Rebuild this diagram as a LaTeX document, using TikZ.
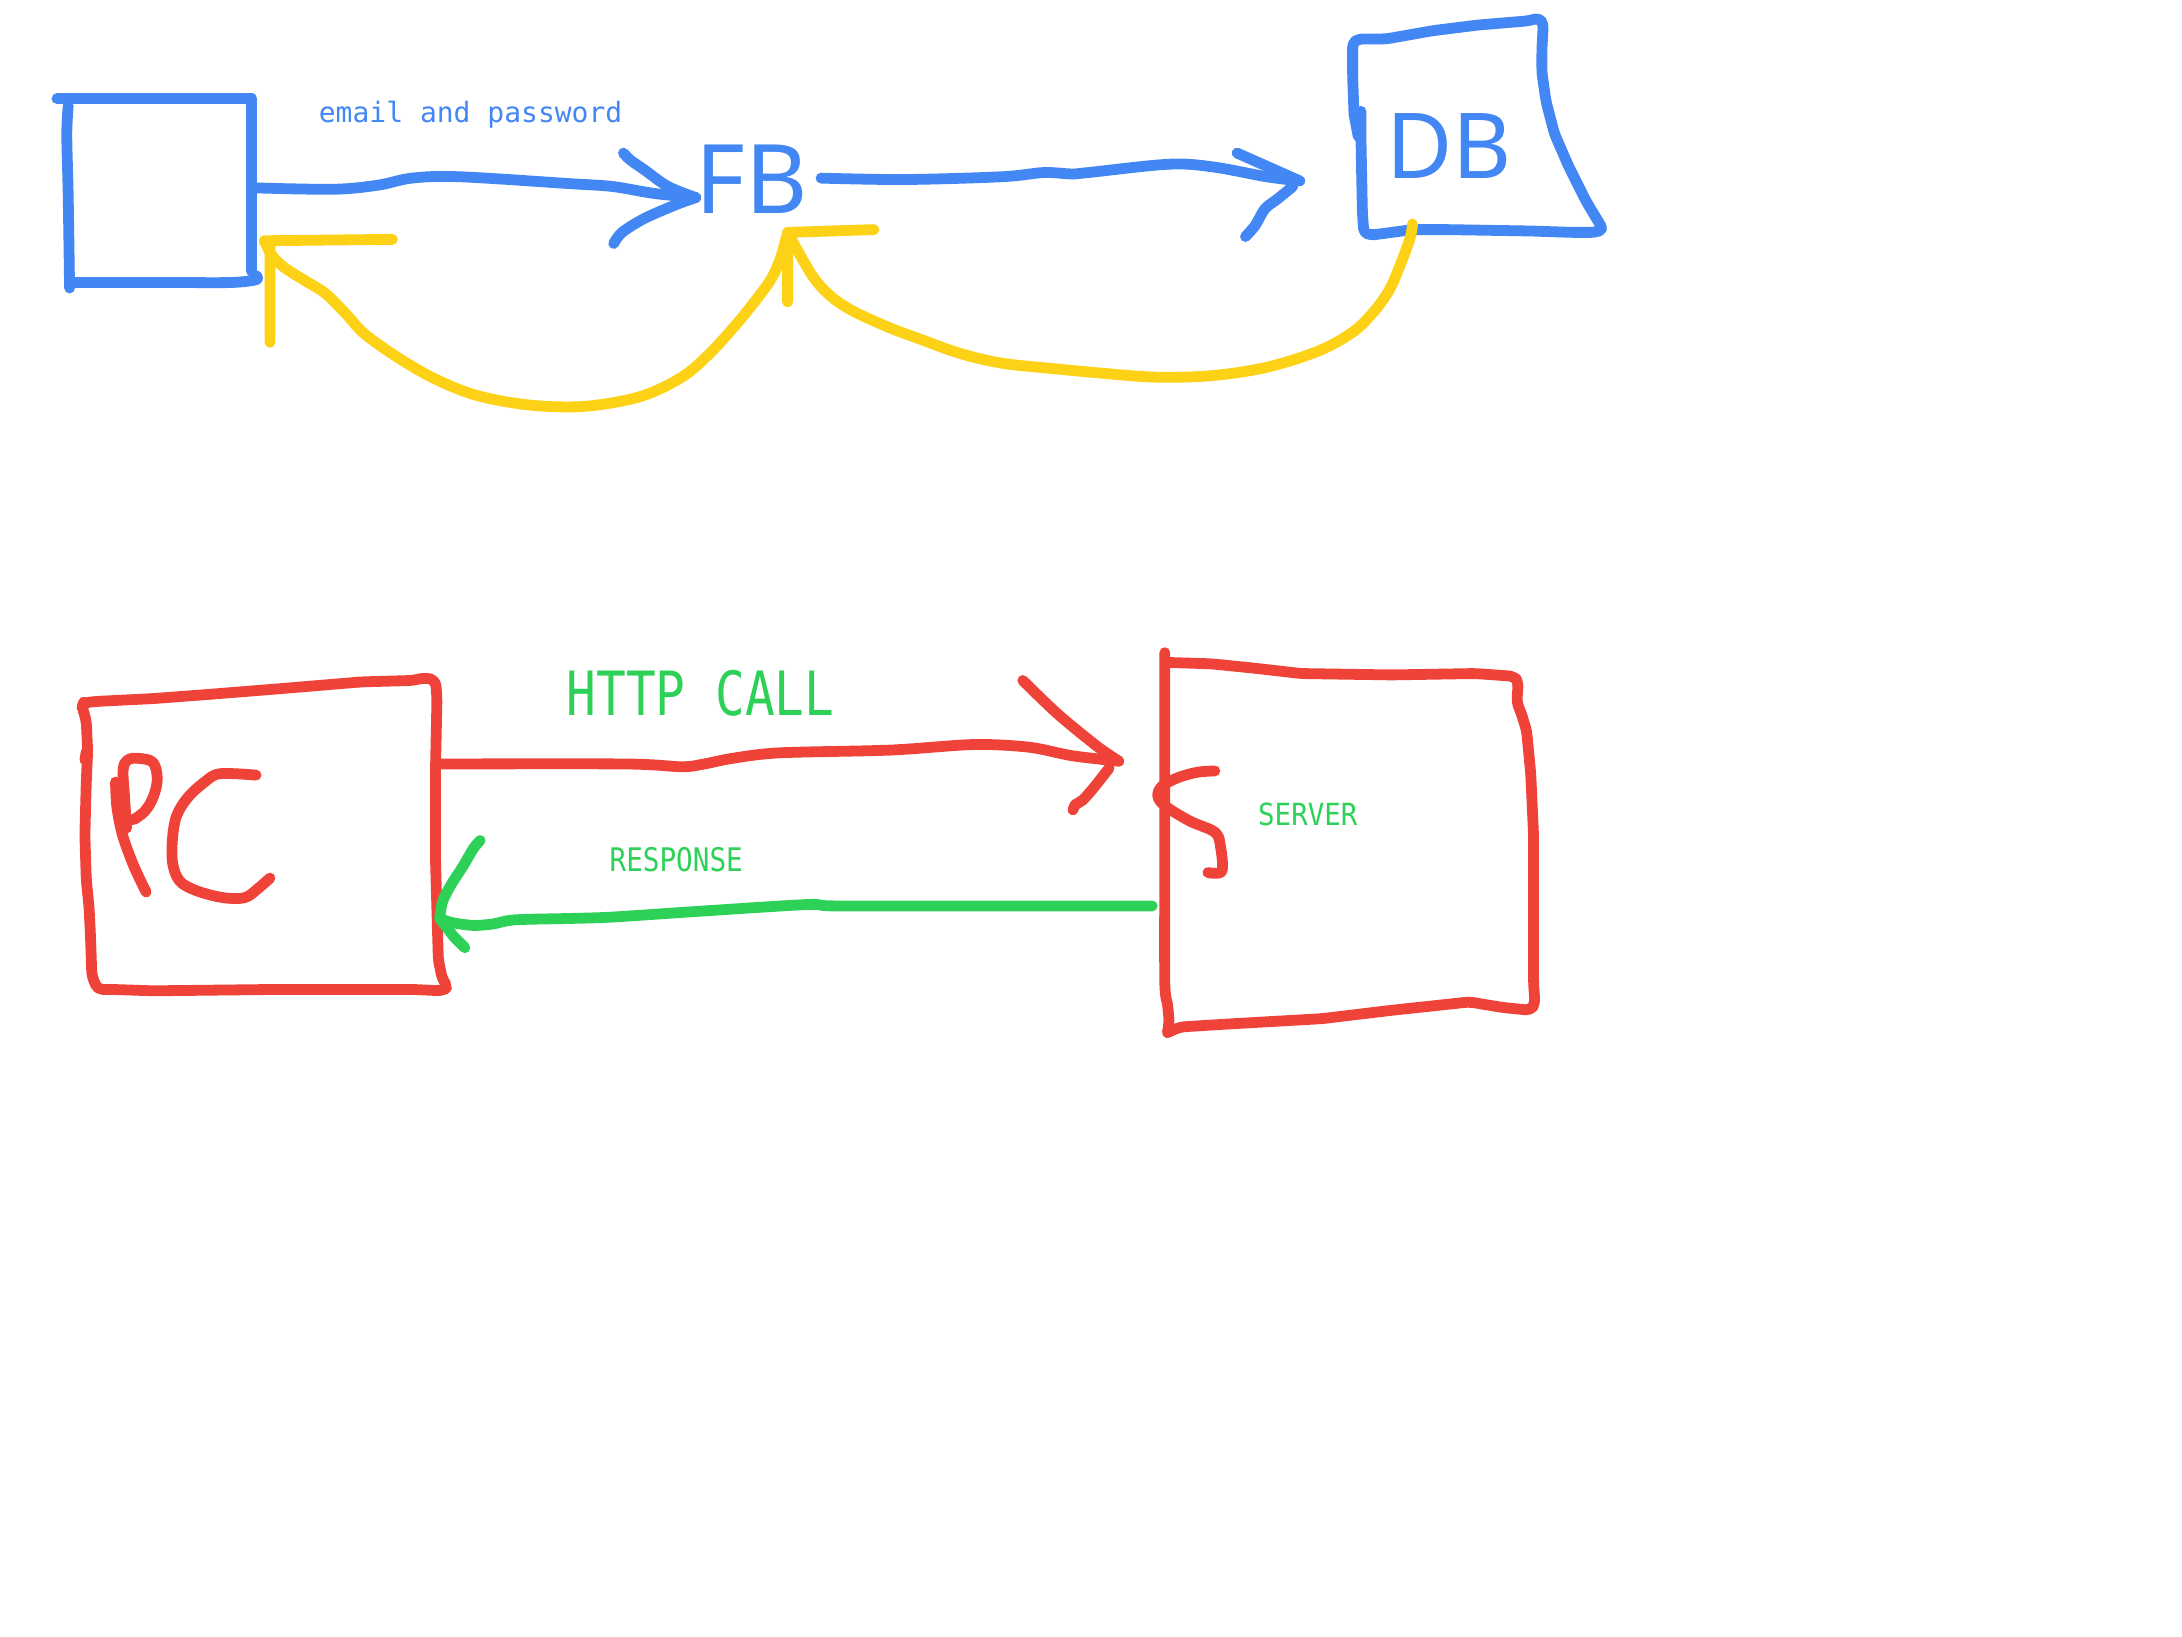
\documentclass[tikz,border=0pt]{standalone}
\usepackage{fontspec}
\usepackage{graphicx}
\newfontfamily\monof{DejaVu Sans Mono}
\newfontfamily\sansf{Noto Sans}
\definecolor{jblue}{HTML}{4387F4}
\definecolor{jyellow}{HTML}{FCD116}
\definecolor{jred}{HTML}{EF4339}
\definecolor{jgreen}{HTML}{2ED158}
\begin{document}
\begin{tikzpicture}[x=1.3916pt,y=-1.3916pt,
  pen/.style={line width=10.8pt,line cap=round,line join=round},
  bluepen/.style={pen,draw=jblue},
  yellowpen/.style={pen,draw=jyellow},
  redpen/.style={pen,draw=jred},
  greenpen/.style={pen,draw=jgreen},
  lbl/.style={inner sep=0pt,anchor=base west}]
\useasboundingbox[fill=white] (0,0) rectangle (1568,1176);

% ---------- text nodes ----------
\node[lbl,text=jblue,font=\monof\fontsize{28}{30}\selectfont] (email) at (229,88) {email and password};
\node[lbl,text=jblue,font=\sansf\fontsize{96}{100}\selectfont] (fb) at (500,153.5) {FB};
\node[lbl,text=jblue,font=\sansf\fontsize{91}{96}\selectfont] (db) at (996,128) {DB};
\node[lbl,text=jgreen,font=\monof\fontsize{61}{66}\selectfont] (http) at (407,514) {\scalebox{0.81}[1]{HTTP CALL}};
\node[lbl,text=jgreen,font=\monof\fontsize{32.5}{34}\selectfont] (resp) at (438,626) {\scalebox{0.85}[1]{RESPONSE}};
\node[lbl,text=jgreen,font=\monof\fontsize{30.5}{32}\selectfont] (serv) at (904,593) {\scalebox{0.9}[1]{SERVER}};

% ---------- named coordinates ----------
\coordinate (boxR) at (183,135);
\coordinate (fbIn) at (500,142);
\coordinate (fbOut) at (590,128);
\coordinate (dbIn) at (934,130);
\coordinate (dbBot) at (1015,161);
\coordinate (fbTip) at (566,167);
\coordinate (boxTip) at (190,173);
\coordinate (pcR) at (316,549);
\coordinate (srvIn) at (804,547);
\coordinate (srvOut) at (828,651);
\coordinate (pcIn) at (316,660);

% ---------- left blue box ----------
\draw[bluepen] (41,71) -- (181,71) -- (181,195);
\draw[bluepen] plot[smooth,tension=0.5] coordinates {(49,76) (48,97) (49,140) (50,207)};
\draw[bluepen] plot[smooth,tension=0.5] coordinates {(51,203) (120,203) (166,203) (184,201) (184,198)};

% ---------- DB box ----------
\draw[bluepen,rounded corners=4pt] (973,82) -- (972,55) -- (972,31) -- (976,28) -- (996,28) -- (1030,22) -- (1062,18) -- (1098,15) -- (1106,13) -- (1109,17) -- (1108,36) -- (1108,52) -- (1111,73) -- (1117,96) -- (1127,119) -- (1140,145) -- (1149,160) -- (1152,165) -- (1146,167) -- (1130,167) -- (1100,166) -- (1040,165) -- (1015,165) -- (985,169) -- (980,167) -- (979,152) -- (978,100) -- (978,80);
\draw[bluepen] (973,82) -- (976,98);

% ---------- blue arrow box -> FB ----------
\draw[bluepen] plot[smooth,tension=0.55] coordinates {(boxR) (240,136) (272,133) (296,128) (330,127) (410,132) (440,134) (470,139) (fbIn)};
\draw[bluepen] plot[smooth,tension=0.5] coordinates {(448,110) (453,115) (463,122) (480,134) (fbIn)};
\draw[bluepen] plot[smooth,tension=0.5] coordinates {(441,175) (447,167) (463,157) (486,147) (fbIn)};

% ---------- blue arrow FB -> DB ----------
\draw[bluepen] plot[smooth,tension=0.55] coordinates {(fbOut) (650,129) (720,127) (750,124) (770,125) (782,124) (840,118) (872,120) (910,127) (dbIn)};
\draw[bluepen] (889,110) -- (dbIn);
\draw[bluepen] plot[smooth,tension=0.5] coordinates {(895,170) (902,162) (909,150) (918,143) (929,134)};

% ---------- yellow DB -> FB ----------
\draw[yellowpen] plot[smooth,tension=0.55] coordinates {(dbBot) (1013,172) (1004,196) (998,209) (988,223) (973,238) (948,252) (910,264) (870,270) (830,271) (790,268) (758,265) (720,261) (690,254) (662,244) (638,235) (612,223) (596,212) (583,197) (fbTip)};
\draw[yellowpen] (628,165) -- (fbTip) -- (566,217);

% ---------- yellow FB -> box ----------
\draw[yellowpen] plot[smooth,tension=0.55] coordinates {(fbTip) (561,185) (555,199) (546,212) (530,232) (510,254) (490,271) (460,285) (420,292) (380,291) (342,284) (312,272) (286,257) (262,240) (249,226) (234,211) (218,201) (204,192) (195,183) (boxTip)};
\draw[yellowpen] (282,172) -- (boxTip) -- (194,176) -- (194,246);

% ---------- PC box ----------
\draw[redpen,rounded corners=5pt] (60,505) -- (70,504) -- (110,502) -- (150,499) -- (200,495) -- (260,490) -- (296,489) -- (306,487) -- (313,489) -- (314,502) -- (313,550) -- (313,620) -- (315,690) -- (318,704) -- (322,709) -- (318,712) -- (296,711) -- (200,711) -- (110,712) -- (80,711) -- (70,711) -- (66,701) -- (65,672) -- (64,652) -- (62,632) -- (61,600) -- (62,562) -- (63,540) -- (62,518) -- (59,508) -- cycle;
\draw[redpen] (62,540) -- (61,546);
% P
\draw[redpen] plot[smooth,tension=0.5] coordinates {(83,562) (84,580) (88,600) (96,622) (105,641)};
\draw[redpen] plot[smooth,tension=0.6] coordinates {(91,595) (89.5,573) (88.5,553) (92,546) (100,545) (110,548) (113,560) (110,573) (104,583) (96,589)};
% C
\draw[redpen] plot[smooth,tension=0.55] coordinates {(184,557) (158,556) (147,562) (135,573) (127,586) (124,602) (124,620) (129,633) (141,640) (160,645) (176,645) (186,638) (194,631)};

% ---------- server box ----------
\draw[redpen] plot[smooth,tension=0.4] coordinates {(837,469) (837,600) (837,705) (839,722) (840,733) (839,742)};
\draw[redpen,rounded corners=5pt] (838,476) -- (870,477) -- (900,480) -- (935,484) -- (1000,485) -- (1060,484) -- (1088,486) -- (1091,490) -- (1090,505) -- (1093,512) -- (1097,525) -- (1100,556) -- (1102,600) -- (1102,706) -- (1103,721) -- (1100,726) -- (1080,724) -- (1056,720) -- (1000,726) -- (950,732) -- (880,736) -- (848,738) -- (839,742);
% squiggle
\draw[redpen] plot[smooth,tension=0.55] coordinates {(873,554) (860,555) (846,559) (835,565) (832,572) (837,579) (855,590) (873,598) (877,608) (878,626) (868,627)};

% ---------- red arrow PC -> server ----------
\draw[redpen] plot[smooth,tension=0.5] coordinates {(pcR) (450,549) (490,551) (506,549) (526,545) (560,541) (640,539) (700,535) (740,537) (770,543) (srvIn)};
\draw[redpen] plot[smooth,tension=0.5] coordinates {(735,489) (760,513) (788,536) (srvIn)};
\draw[redpen] plot[smooth,tension=0.5] coordinates {(797,552) (786,566) (778,575) (773,578) (771,582)};

% ---------- green arrow server -> PC ----------
\draw[greenpen] plot[smooth,tension=0.5] coordinates {(srvOut) (700,651) (600,651) (580,650) (500,655) (440,659) (410,660) (370,661) (354,664) (340,665) (325,663) (pcIn)};
\draw[greenpen] plot[smooth,tension=0.5] coordinates {(345,604) (340,610) (333,622) (324,636) (318,648) (pcIn)};
\draw[greenpen] (pcIn) -- (326,673) -- (334,681);
\end{tikzpicture}
\end{document}
